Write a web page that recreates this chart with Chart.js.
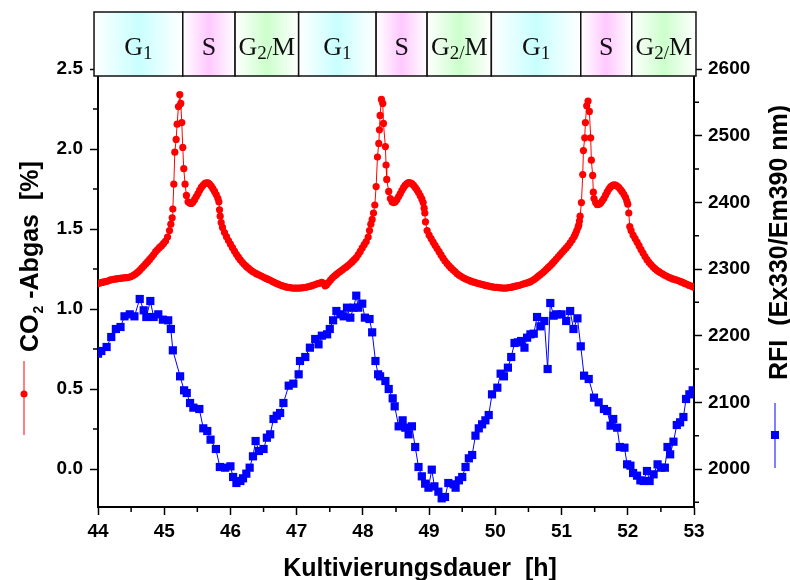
<!DOCTYPE html>
<html>
<head>
<meta charset="utf-8">
<script src="https://cdn.jsdelivr.net/npm/chart.js@4"></script>
<style>
  html, body { margin: 0; padding: 0; background: #fff; }
  #wrap { width: 790px; height: 580px; }
</style>
</head>
<body>
<div id="wrap"><canvas id="chart" width="790" height="580"></canvas></div>
<script>
'use strict';

/* ── Data ───────────────────────────────────────────── */
// CO2 in exhaust gas [%], red dots (left axis)
const co2Time = [
  44.00, 44.03, 44.06, 44.09, 44.12, 44.15, 44.18, 44.21, 44.24, 44.27,
  44.30, 44.33, 44.36, 44.39, 44.42, 44.45, 44.48, 44.51, 44.54, 44.57,
  44.60, 44.63, 44.66, 44.69, 44.72, 44.75, 44.78, 44.81, 44.84, 44.87,
  44.90, 44.93, 44.96, 44.99, 45.02, 45.05, 45.08, 45.10, 45.12, 45.13,
  45.145, 45.16, 45.18, 45.195, 45.215, 45.235, 45.25, 45.265, 45.28, 45.295,
  45.315, 45.335, 45.36, 45.385, 45.41, 45.435, 45.46, 45.485, 45.51, 45.535,
  45.56, 45.585, 45.61, 45.635, 45.66, 45.685, 45.71, 45.735, 45.76, 45.785,
  45.81, 45.825, 45.835, 45.845, 45.86, 45.88, 45.91, 45.94, 45.97, 46.00,
  46.03, 46.06, 46.09, 46.12, 46.15, 46.18, 46.21, 46.24, 46.27, 46.30,
  46.33, 46.36, 46.39, 46.42, 46.45, 46.48, 46.51, 46.54, 46.57, 46.60,
  46.63, 46.66, 46.69, 46.72, 46.75, 46.78, 46.81, 46.84, 46.87, 46.90,
  46.93, 46.96, 46.99, 47.02, 47.05, 47.08, 47.11, 47.14, 47.17, 47.20,
  47.23, 47.26, 47.29, 47.32, 47.35, 47.38, 47.41, 47.43, 47.45, 47.48,
  47.51, 47.54, 47.57, 47.60, 47.63, 47.66, 47.69, 47.72, 47.75, 47.78,
  47.81, 47.84, 47.87, 47.90, 47.93, 47.96, 47.99, 48.02, 48.05, 48.08,
  48.10, 48.12, 48.14, 48.16, 48.18, 48.20, 48.22, 48.24, 48.25, 48.26,
  48.28, 48.30, 48.31, 48.34, 48.35, 48.36, 48.39, 48.415, 48.44, 48.465,
  48.49, 48.515, 48.54, 48.565, 48.59, 48.615, 48.64, 48.665, 48.69, 48.715,
  48.74, 48.765, 48.79, 48.815, 48.84, 48.865, 48.89, 48.91, 48.925, 48.935,
  48.945, 48.97, 49.00, 49.03, 49.06, 49.09, 49.12, 49.15, 49.18, 49.21,
  49.24, 49.27, 49.30, 49.33, 49.36, 49.39, 49.42, 49.45, 49.48, 49.51,
  49.54, 49.57, 49.60, 49.63, 49.66, 49.69, 49.72, 49.75, 49.78, 49.81,
  49.84, 49.87, 49.90, 49.93, 49.96, 49.99, 50.02, 50.05, 50.08, 50.11,
  50.14, 50.17, 50.20, 50.23, 50.26, 50.29, 50.32, 50.35, 50.38, 50.41,
  50.44, 50.47, 50.50, 50.53, 50.56, 50.59, 50.62, 50.65, 50.68, 50.71,
  50.74, 50.77, 50.80, 50.83, 50.86, 50.89, 50.92, 50.95, 50.98, 51.01,
  51.04, 51.07, 51.10, 51.13, 51.16, 51.19, 51.21, 51.23, 51.25, 51.26,
  51.27, 51.28, 51.30, 51.32, 51.33, 51.35, 51.36, 51.38, 51.40, 51.42,
  51.44, 51.45, 51.47, 51.48, 51.49, 51.515, 51.54, 51.565, 51.59, 51.615,
  51.64, 51.665, 51.69, 51.715, 51.74, 51.765, 51.79, 51.815, 51.84, 51.865,
  51.89, 51.915, 51.94, 51.965, 51.985, 52.00, 52.015, 52.03, 52.05, 52.08,
  52.11, 52.14, 52.17, 52.20, 52.23, 52.26, 52.29, 52.32, 52.35, 52.38,
  52.41, 52.44, 52.47, 52.50, 52.53, 52.56, 52.59, 52.62, 52.65, 52.68,
  52.71, 52.74, 52.77, 52.80, 52.83, 52.86, 52.89, 52.92, 52.95, 52.98,
  53.00
];
const co2Value = [
  1.160, 1.163, 1.166, 1.169, 1.172, 1.175, 1.180, 1.183, 1.186, 1.188,
  1.190, 1.191, 1.193, 1.195, 1.196, 1.197, 1.200, 1.204, 1.212, 1.220,
  1.230, 1.242, 1.255, 1.268, 1.282, 1.296, 1.310, 1.325, 1.340, 1.358,
  1.372, 1.385, 1.396, 1.410, 1.425, 1.450, 1.490, 1.530, 1.570, 1.625,
  1.780, 1.980, 2.060, 2.155, 2.265, 2.340, 2.285, 2.165, 2.010, 1.877,
  1.780, 1.710, 1.670, 1.662, 1.660, 1.668, 1.685, 1.703, 1.722, 1.742,
  1.760, 1.773, 1.783, 1.789, 1.788, 1.781, 1.768, 1.752, 1.735, 1.715,
  1.692, 1.670, 1.620, 1.580, 1.540, 1.510, 1.478, 1.452, 1.428, 1.405,
  1.383, 1.362, 1.342, 1.324, 1.307, 1.292, 1.278, 1.266, 1.255, 1.245,
  1.236, 1.228, 1.221, 1.215, 1.209, 1.203, 1.197, 1.191, 1.185, 1.179,
  1.173, 1.167, 1.161, 1.155, 1.150, 1.146, 1.142, 1.138, 1.135, 1.133,
  1.131, 1.130, 1.130, 1.130, 1.131, 1.132, 1.134, 1.136, 1.139, 1.142,
  1.146, 1.150, 1.154, 1.158, 1.162, 1.166, 1.160, 1.145, 1.150, 1.165,
  1.180, 1.195, 1.206, 1.216, 1.226, 1.236, 1.245, 1.254, 1.263, 1.273,
  1.284, 1.296, 1.308, 1.322, 1.340, 1.360, 1.382, 1.402, 1.422, 1.450,
  1.490, 1.530, 1.560, 1.600, 1.650, 1.765, 1.950, 2.035, 2.120, 2.210,
  2.310, 2.285, 2.160, 2.015, 1.900, 1.810, 1.735, 1.690, 1.670, 1.665,
  1.670, 1.685, 1.703, 1.722, 1.742, 1.760, 1.774, 1.784, 1.790, 1.789,
  1.783, 1.773, 1.760, 1.745, 1.728, 1.708, 1.688, 1.665, 1.630, 1.600,
  1.545, 1.490, 1.462, 1.440, 1.418, 1.398, 1.378, 1.358, 1.338, 1.318,
  1.300, 1.284, 1.270, 1.257, 1.245, 1.234, 1.222, 1.212, 1.204, 1.197,
  1.190, 1.184, 1.179, 1.174, 1.170, 1.166, 1.162, 1.158, 1.155, 1.152,
  1.149, 1.146, 1.143, 1.140, 1.138, 1.136, 1.135, 1.133, 1.132, 1.131,
  1.130, 1.131, 1.133, 1.135, 1.138, 1.141, 1.144, 1.147, 1.150, 1.154,
  1.158, 1.162, 1.166, 1.171, 1.178, 1.186, 1.195, 1.205, 1.215, 1.225,
  1.236, 1.248, 1.260, 1.272, 1.285, 1.298, 1.312, 1.326, 1.340, 1.354,
  1.368, 1.382, 1.397, 1.414, 1.432, 1.452, 1.470, 1.490, 1.512, 1.525,
  1.550, 1.580, 1.665, 1.840, 1.990, 2.070, 2.165, 2.270, 2.300, 2.235,
  2.070, 1.930, 1.835, 1.730, 1.690, 1.665, 1.652, 1.654, 1.662, 1.676,
  1.692, 1.712, 1.732, 1.750, 1.763, 1.772, 1.776, 1.774, 1.768, 1.759,
  1.747, 1.733, 1.717, 1.698, 1.675, 1.655, 1.600, 1.515, 1.490, 1.462,
  1.440, 1.418, 1.396, 1.372, 1.350, 1.328, 1.308, 1.292, 1.278, 1.264,
  1.252, 1.242, 1.233, 1.225, 1.218, 1.211, 1.204, 1.198, 1.193, 1.188,
  1.184, 1.180, 1.176, 1.171, 1.166, 1.160, 1.154, 1.149, 1.145, 1.140,
  1.136
];

// RFI (Ex330/Em390 nm), blue squares (right axis)
const rfiTime = [
  44.00, 44.05, 44.13, 44.20, 44.27, 44.34, 44.40, 44.48, 44.55, 44.63,
  44.69, 44.73, 44.79, 44.84, 44.91, 44.98, 45.06, 45.10, 45.13, 45.24,
  45.30, 45.34, 45.39, 45.44, 45.53, 45.59, 45.65, 45.70, 45.78, 45.84,
  45.92, 46.00, 46.04, 46.09, 46.15, 46.19, 46.24, 46.29, 46.34, 46.38,
  46.43, 46.50, 46.55, 46.60, 46.65, 46.70, 46.75, 46.80, 46.88, 46.95,
  47.03, 47.05, 47.13, 47.20, 47.28, 47.33, 47.38, 47.46, 47.50, 47.55,
  47.60, 47.66, 47.71, 47.76, 47.81, 47.86, 47.90, 47.93, 47.99, 48.03,
  48.10, 48.14, 48.19, 48.23, 48.26, 48.34, 48.39, 48.45, 48.48, 48.54,
  48.60, 48.64, 48.69, 48.74, 48.79, 48.84, 48.89, 48.94, 48.99, 49.04,
  49.08, 49.14, 49.19, 49.24, 49.29, 49.37, 49.40, 49.45, 49.50, 49.55,
  49.60, 49.65, 49.70, 49.75, 49.80, 49.85, 49.90, 49.95, 50.03, 50.08,
  50.13, 50.19, 50.24, 50.29, 50.34, 50.39, 50.44, 50.48, 50.53, 50.58,
  50.63, 50.68, 50.74, 50.79, 50.83, 50.88, 50.93, 51.00, 51.07, 51.13,
  51.18, 51.24, 51.29, 51.34, 51.41, 51.49, 51.56, 51.64, 51.69, 51.74,
  51.78, 51.84, 51.88, 51.95, 51.99, 52.04, 52.08, 52.14, 52.19, 52.24,
  52.29, 52.33, 52.39, 52.45, 52.50, 52.56, 52.60, 52.64, 52.69, 52.74,
  52.79, 52.84, 52.88, 52.93, 52.98
];
const rfiValue = [
  2173, 2177, 2183, 2198, 2210, 2213, 2229, 2232, 2229, 2255,
  2238, 2228, 2252, 2228, 2232, 2224, 2223, 2210, 2178, 2139,
  2118, 2114, 2099, 2092, 2090, 2061, 2057, 2044, 2030, 2003,
  2002, 2004, 1988, 1979, 1982, 1986, 1993, 2002, 2019, 2042,
  2027, 2030, 2047, 2052, 2075, 2080, 2084, 2099, 2125, 2128,
  2142, 2162, 2168, 2182, 2195, 2187, 2200, 2202, 2210, 2223,
  2237, 2232, 2229, 2242, 2227, 2242, 2260, 2242, 2248, 2227,
  2225, 2205, 2162, 2142, 2139, 2132, 2120, 2106, 2094, 2064,
  2073, 2062, 2052, 2064, 2033, 2003, 1989, 1978, 1972, 1999,
  1974, 1966, 1956, 1958, 1979, 1977, 1972, 1983, 1988, 2003,
  2016, 2021, 2050, 2061, 2067, 2073, 2081, 2112, 2122, 2143,
  2139, 2152, 2168, 2189, 2190, 2192, 2182, 2197, 2202, 2203,
  2228, 2214, 2222, 2150, 2249, 2230, 2232, 2232, 2222, 2237,
  2210, 2226, 2184, 2140, 2135, 2107, 2100, 2090, 2087, 2065,
  2075, 2062, 2033, 2032, 2007, 2005, 1994, 1990, 1983, 1982,
  1997, 1982, 1992, 2007, 2002, 2002, 2033, 2022, 2041, 2066,
  2070, 2078, 2105, 2112, 2118
];

// Axis ticks
const xTicks     = [44, 45, 46, 47, 48, 49, 50, 51, 52, 53];
const xMinor     = [44.5, 45.5, 46.5, 47.5, 48.5, 49.5, 50.5, 51.5, 52.5];
const co2Ticks   = [0, 0.5, 1.0, 1.5, 2.0, 2.5];
const co2Minor   = [0.25, 0.75, 1.25, 1.75, 2.25];
const rfiTicks   = [2000, 2100, 2200, 2300, 2400, 2500, 2600];
const rfiMinor   = [1950, 2050, 2150, 2250, 2350, 2450, 2550];

// Cell-cycle phase bar (boundaries in hours)
const phaseEdges  = [43.94, 45.28, 46.07, 47.03, 48.20, 48.97, 49.94, 51.29, 52.06, 53.03];
const phaseLabels = ['G1', 'S', 'G2/M', 'G1', 'S', 'G2/M', 'G1', 'S', 'G2/M'];

/* ── Styling ────────────────────────────────────────── */
const SANS  = "'Liberation Sans', Arial, sans-serif";
const SERIF = "'Liberation Serif', 'Times New Roman', serif";
const PHASE_TINT = { 'G1': '#c8ffff', 'S': '#ffc8ff', 'G2/M': '#ccffcc' };
const tickFont = { family: SANS, size: 19, weight: 'bold' };

/* ── Helpers ────────────────────────────────────────── */
function pairs(xs, ys) {
  return xs.map((t, i) => ({ x: t, y: ys[i] }));
}

/** Draw "G1" / "S" / "G2/M" with subscript digits, centered on cx. */
function drawPhaseLabel(ctx, label, cx, base) {
  const m = label.match(/^(G)(\d\/?)(.*)$/);
  const parts = m
    ? [[m[1], 0, 26], [m[2], 4, 19], [m[3], 0, 26]]
    : [[label, 0, 26]];
  let w = 0;
  parts.forEach(p => { ctx.font = p[2] + 'px ' + SERIF; w += ctx.measureText(p[0]).width; });
  let px = cx - w / 2;
  parts.forEach(p => {
    ctx.font = p[2] + 'px ' + SERIF;
    ctx.fillText(p[0], px, base + p[1]);
    px += ctx.measureText(p[0]).width;
  });
}

/* ── Decorations: minor ticks, phase bar, axis titles ─ */
const decor = {
  id: 'decor',
  afterDraw(chart) {
    const { ctx, chartArea: a } = chart;
    const { x, y, y1 } = chart.scales;
    ctx.save();

    // minor ticks
    ctx.strokeStyle = '#000';
    ctx.lineWidth = 1.5;
    ctx.beginPath();
    xMinor.forEach(v => { const p = x.getPixelForValue(v); ctx.moveTo(p, a.bottom); ctx.lineTo(p, a.bottom + 5); });
    co2Minor.forEach(v => { const p = y.getPixelForValue(v); ctx.moveTo(a.left, p); ctx.lineTo(a.left - 5, p); });
    rfiMinor.forEach(v => { const p = y1.getPixelForValue(v); ctx.moveTo(a.right, p); ctx.lineTo(a.right + 5, p); });
    ctx.stroke();

    // phase bar
    const top = 12, bot = 76;
    ctx.textBaseline = 'alphabetic';
    ctx.textAlign = 'left';
    for (let i = 0; i < phaseLabels.length; i++) {
      const x0 = x.getPixelForValue(phaseEdges[i]);
      const x1 = x.getPixelForValue(phaseEdges[i + 1]);
      const g = ctx.createLinearGradient(x0, 0, x1, 0);
      g.addColorStop(0, '#ffffff');
      g.addColorStop(0.5, PHASE_TINT[phaseLabels[i]]);
      g.addColorStop(1, '#ffffff');
      ctx.fillStyle = g;
      ctx.fillRect(x0, top, x1 - x0, bot - top);
      ctx.strokeStyle = '#111';
      ctx.lineWidth = 1.5;
      ctx.strokeRect(x0, top, x1 - x0, bot - top);
      ctx.fillStyle = '#111';
      drawPhaseLabel(ctx, phaseLabels[i], (x0 + x1) / 2, 55);
    }

    // x axis title
    ctx.fillStyle = '#000';
    ctx.font = 'bold 25px ' + SANS;
    ctx.textAlign = 'center';
    ctx.fillText('Kultivierungsdauer  [h]', 420, 576);

    // left axis title with legend symbol
    ctx.save();
    ctx.translate(38, 352);
    ctx.rotate(-Math.PI / 2);
    ctx.textAlign = 'left';
    ctx.font = 'bold 25px ' + SANS;
    ctx.fillText('CO', 0, 0);
    let w = ctx.measureText('CO').width;
    ctx.font = 'bold 14px ' + SANS;
    ctx.fillText('2', w + 1, 5);
    w += ctx.measureText('2').width + 1;
    ctx.font = 'bold 25px ' + SANS;
    ctx.fillText(' -Abgas  [%]', w, 0);
    ctx.restore();

    ctx.strokeStyle = '#ff0000';
    ctx.lineWidth = 1;
    ctx.beginPath(); ctx.moveTo(24, 361); ctx.lineTo(24, 435); ctx.stroke();
    ctx.fillStyle = '#ff0000';
    ctx.beginPath(); ctx.arc(24, 394, 3.5, 0, Math.PI * 2); ctx.fill();

    // right axis title with legend symbol
    ctx.save();
    ctx.translate(787, 380);
    ctx.rotate(-Math.PI / 2);
    ctx.textAlign = 'left';
    ctx.fillStyle = '#000';
    ctx.font = 'bold 25px ' + SANS;
    ctx.fillText('RFI  (Ex330/Em390 nm)', 0, 0);
    ctx.restore();

    ctx.strokeStyle = '#0000ff';
    ctx.beginPath(); ctx.moveTo(775, 403); ctx.lineTo(775, 468); ctx.stroke();
    ctx.fillStyle = '#0000ff';
    ctx.fillRect(771, 431, 8, 8);

    ctx.restore();
  }
};

/* ── Chart ──────────────────────────────────────────── */
const ctx = document.getElementById('chart').getContext('2d');

new Chart(ctx, {
  type: 'line',
  data: {
    datasets: [
      {
        label: 'CO2-Abgas',
        data: pairs(co2Time, co2Value),
        yAxisID: 'y',
        borderColor: '#ff0000',
        backgroundColor: '#ff0000',
        borderWidth: 1,
        pointRadius: 3.6,
        pointBorderWidth: 0,
        tension: 0
      },
      {
        label: 'RFI',
        data: pairs(rfiTime, rfiValue),
        yAxisID: 'y1',
        borderColor: '#0000ff',
        backgroundColor: '#0000ff',
        borderWidth: 1,
        pointStyle: 'rect',
        pointRadius: 5.8,
        pointBorderWidth: 0,
        tension: 0
      }
    ]
  },
  options: {
    responsive: false,
    animation: false,
    devicePixelRatio: 1,
    layout: { padding: { top: 69, left: 0, right: 0, bottom: 0 } },
    plugins: {
      legend: { display: false },
      tooltip: { enabled: false }
    },
    scales: {
      x: {
        type: 'linear',
        min: 44, max: 53,
        afterFit: s => { s.height = 73; },
        afterBuildTicks: s => { s.ticks = xTicks.map(v => ({ value: v })); },
        ticks: { font: tickFont, color: '#000', padding: 5, maxRotation: 0, autoSkip: false,
                 callback: v => String(v) },
        grid: { drawOnChartArea: false, tickLength: 8, tickWidth: 1.5, tickColor: '#000' },
        border: { color: '#000', width: 2 }
      },
      y: {
        position: 'left',
        min: -0.2375, max: 2.5,
        afterFit: s => { s.width = 98; },
        afterBuildTicks: s => { s.ticks = co2Ticks.map(v => ({ value: v })); },
        ticks: { font: tickFont, color: '#000', padding: 7, autoSkip: false,
                 callback: v => v.toFixed(1) },
        grid: { drawOnChartArea: false, tickLength: 8, tickWidth: 1.5, tickColor: '#000' },
        border: { color: '#000', width: 2 }
      },
      y1: {
        position: 'right',
        min: 1943, max: 2600,
        afterFit: s => { s.width = 96; },
        afterBuildTicks: s => { s.ticks = rfiTicks.map(v => ({ value: v })); },
        ticks: { font: tickFont, color: '#000', padding: 6, autoSkip: false,
                 callback: v => String(v) },
        grid: { drawOnChartArea: false, tickLength: 8, tickWidth: 1.5, tickColor: '#000' },
        border: { color: '#000', width: 2 }
      }
    }
  },
  plugins: [decor]
});
</script>
</body>
</html>
